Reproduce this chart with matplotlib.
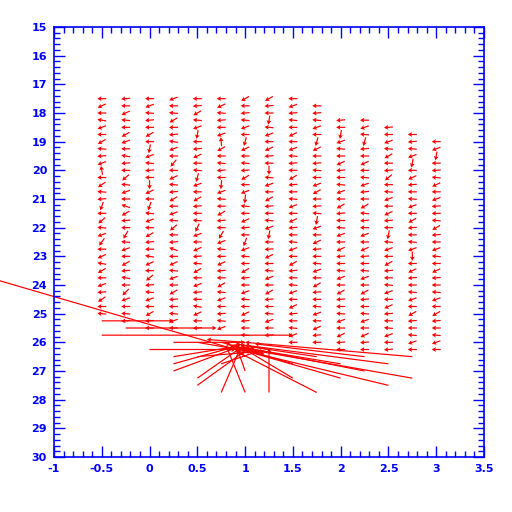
"""Field of small displacement arrows on a grid, with a cluster of long vectors
near the bottom (PGPLOT-style blue frame, red arrows)."""

import matplotlib
matplotlib.use("Agg")
import matplotlib.pyplot as plt
import numpy as np
from matplotlib.ticker import FormatStrFormatter, MultipleLocator

plt.rcParams["axes.unicode_minus"] = False

# grid columns (x) and the first row (y) of each column; rows step by 0.25
COL_X = [-0.5, -0.25, 0.0, 0.25, 0.5, 0.75, 1.0, 1.25, 1.5, 1.75, 2.0, 2.25, 2.5, 2.75, 3.0]
COL_TOP = [17.5, 17.5, 17.5, 17.5, 17.5, 17.5, 17.5, 17.5, 17.5, 17.75, 18.25, 18.25, 18.5, 18.75, 19.0]
ROW_STEP = 0.25

# direction of each small arrow (degrees on screen, 0 = right, 90 = up)
COL_ANGLES = [
    [180, 205, 180, 170, 200, 180, 210, 175, 185, 200, 100, 180, 215, 175, 185, 250,
     180, 220, 175, 200, 235, 180, 205, 170, 210, 180, 200, 185, 215, 180, 175],
    [185, 180, 205, 175, 180, 210, 200, 180, 170, 185, 180, 220, 175, 200, 180, 160,
     210, 185, 180, 240, 175, 200, 180, 210, 185, 170, 180, 225, 200, 180, 175, 185],
    [180, 200, 175, 185, 180, 210, 180, 260, 200, 175, 185, 180, 270, 205, 180, 250,
     175, 200, 180, 210, 185, 180, 170, 205, 180, 220, 185, 175, 200, 180, 210, 185, 180],
    [200, 180, 175, 210, 180, 185, 170, 200, 180, 230, 180, 205, 175, 185, 210, 180,
     200, 175, 220, 180, 185, 160, 180, 205, 175, 200, 180, 210, 185, 180, 175, 200, 180],
    [180, 185, 210, 175, 200, 260, 180, 185, 205, 180, 175, 255, 200, 180, 210, 185,
     180, 175, 245, 200, 180, 205, 185, 175, 210, 180, 200, 185, 180, 170, 205, 180, 185],
    [180, 205, 175, 185, 180, 200, 95, 210, 180, 175, 185, 180, 265, 200, 175, 180,
     210, 185, 180, 240, 200, 175, 180, 205, 185, 180, 210, 175, 200, 180, 185, 175, 200],
    [210, 180, 185, 175, 200, 180, 255, 205, 180, 175, 185, 210, 180, 200, 265, 175,
     180, 205, 185, 180, 250, 200, 175, 180, 210, 185, 180, 200, 175, 180, 205, 185, 180, 175],
    [210, 185, 180, 260, 175, 200, 180, 205, 185, 180, 270, 175, 200, 180, 210, 185,
     180, 175, 200, 260, 180, 185, 205, 180, 175, 200, 180, 210, 185, 180, 175, 200, 180, 185],
    [180, 200, 185, 175, 180, 205, 180, 200, 175, 185, 180, 210, 185, 180, 175, 200,
     180, 205, 185, 180, 175, 200, 180, 210, 185, 180, 175, 200, 180, 205, 185, 180, 175, 200, 180],
    [180, 185, 175, 200, 180, 255, 205, 180, 185, 175, 180, 200, 210, 180, 185, 175,
     260, 200, 180, 205, 185, 180, 175, 200, 180, 210, 185, 180, 175, 200, 180, 205, 185, 180],
    [185, 180, 260, 200, 175, 180, 205, 185, 180, 175, 200, 180, 210, 185, 180, 175,
     200, 180, 205, 185, 180, 175, 200, 180, 210, 185, 180, 175, 200, 180, 205, 185, 180],
    [180, 200, 175, 255, 185, 180, 205, 180, 175, 200, 185, 180, 210, 175, 185, 180,
     200, 180, 205, 185, 180, 175, 200, 180, 210, 185, 180, 175, 200, 180, 205, 185, 180],
    [185, 180, 200, 175, 210, 180, 185, 220, 180, 175, 200, 180, 205, 185, 180, 260,
     175, 200, 180, 210, 185, 180, 175, 200, 180, 205, 185, 180, 175, 200, 180, 185],
    [180, 185, 175, 200, 260, 180, 205, 185, 180, 175, 200, 180, 210, 185, 180, 175,
     200, 270, 180, 205, 185, 180, 175, 200, 180, 210, 185, 180, 175, 200, 180],
    [180, 200, 260, 180, 185, 175, 205, 180, 200, 185, 180, 175, 210, 185, 180, 200,
     175, 180, 205, 185, 180, 175, 200, 180, 210, 185, 180, 175, 200, 180],
]

# long vectors near the bottom: tail (x, y) and head (x, y) in data units
BIG_X0 = [-1.57, -0.5, -0.25, -0.5, 0.25, 0.0, 0.25, 0.25, 0.25, 0.5, 0.5, 0.75, 1.0, 1.25,
          2.75, 2.75, 2.5, 2.5, 2.0, 1.75, 2.25, 2.0, 1.5, 1.5, 1.75, 2.25, 1.25, 1.0,
          0.75, 0.5, 0.75, 1.0, 0.5, 0.75, 1.0]
BIG_Y0 = [23.85, 25.25, 25.5, 25.75, 26.0, 26.25, 26.5, 26.75, 27.0, 27.25, 27.5, 27.75, 27.75, 27.75,
          26.5, 27.25, 26.75, 27.5, 27.25, 27.75, 27.0, 26.75, 26.75, 27.25, 26.5, 26.5, 26.25, 26.0,
          26.0, 26.0, 26.25, 26.5, 26.5, 26.75, 27.0]
BIG_X1 = [0.95, 0.25, 0.7, 1.5, 1.0, 0.9, 0.9, 0.95, 0.9, 0.95, 1.0, 0.95, 0.8, 1.25,
          1.0, 0.95, 1.0, 1.0, 0.9, 0.9, 0.95, 1.0, 0.85, 1.0, 0.95, 1.1, 0.9, 0.6,
          1.2, 1.1, 1.1, 0.8, 1.2, 1.15, 0.9]
BIG_Y1 = [26.3, 25.25, 25.5, 25.75, 26.0, 26.25, 26.15, 26.1, 26.2, 26.2, 26.3, 26.2, 26.1, 26.2,
          26.0, 26.2, 26.1, 26.3, 26.2, 26.3, 26.15, 26.2, 26.1, 26.25, 26.1, 26.05, 26.05, 25.9,
          26.4, 26.35, 26.2, 26.0, 26.3, 26.3, 26.05]

SMALL_LEN_PX = 9.0
BLUE = "#0000ff"
RED = "#ff0000"


def main() -> None:
    xs, ys, ang = [], [], []
    for x, top, angles in zip(COL_X, COL_TOP, COL_ANGLES):
        for i, a in enumerate(angles):
            xs.append(x)
            ys.append(top + ROW_STEP * i)
            ang.append(a)
    xs = np.array(xs)
    ys = np.array(ys)
    ang = np.array(ang, dtype=float)

    fig = plt.figure(figsize=(5.12, 5.12), dpi=100)
    ax = fig.add_axes([54 / 512, 1 - 457 / 512, 430 / 512, 430 / 512])
    ax.set_xlim(-1, 3.5)
    ax.set_ylim(30, 15)

    arrow_kw = dict(color=RED, units="dots", width=1.2, headwidth=4.0, headlength=3.5,
                    headaxislength=3.0, clip_on=False)
    ax.quiver(xs, ys, np.full(len(xs), SMALL_LEN_PX), np.zeros(len(xs)), angles=ang,
              scale_units="dots", scale=1, pivot="middle", **arrow_kw)

    bx0 = np.array(BIG_X0)
    by0 = np.array(BIG_Y0)
    ax.quiver(bx0, by0, np.array(BIG_X1) - bx0, np.array(BIG_Y1) - by0, angles="xy",
              scale_units="xy", scale=1, pivot="tail", **arrow_kw)

    ax.xaxis.set_major_locator(MultipleLocator(0.5))
    ax.xaxis.set_minor_locator(MultipleLocator(0.1))
    ax.xaxis.set_major_formatter(FormatStrFormatter("%g"))
    ax.yaxis.set_major_locator(MultipleLocator(1))
    ax.yaxis.set_minor_locator(MultipleLocator(0.2))
    ax.yaxis.set_major_formatter(FormatStrFormatter("%g"))
    ax.tick_params(which="both", direction="in", top=True, right=True, colors=BLUE, width=1)
    ax.tick_params(which="major", length=8, labelsize=8, pad=5)
    ax.tick_params(which="minor", length=4)
    for lab in ax.get_xticklabels() + ax.get_yticklabels():
        lab.set_fontweight("bold")
    for sp in ax.spines.values():
        sp.set_color(BLUE)
        sp.set_linewidth(1.2)

    fig.savefig("out.png", dpi=100)


if __name__ == "__main__":
    main()
